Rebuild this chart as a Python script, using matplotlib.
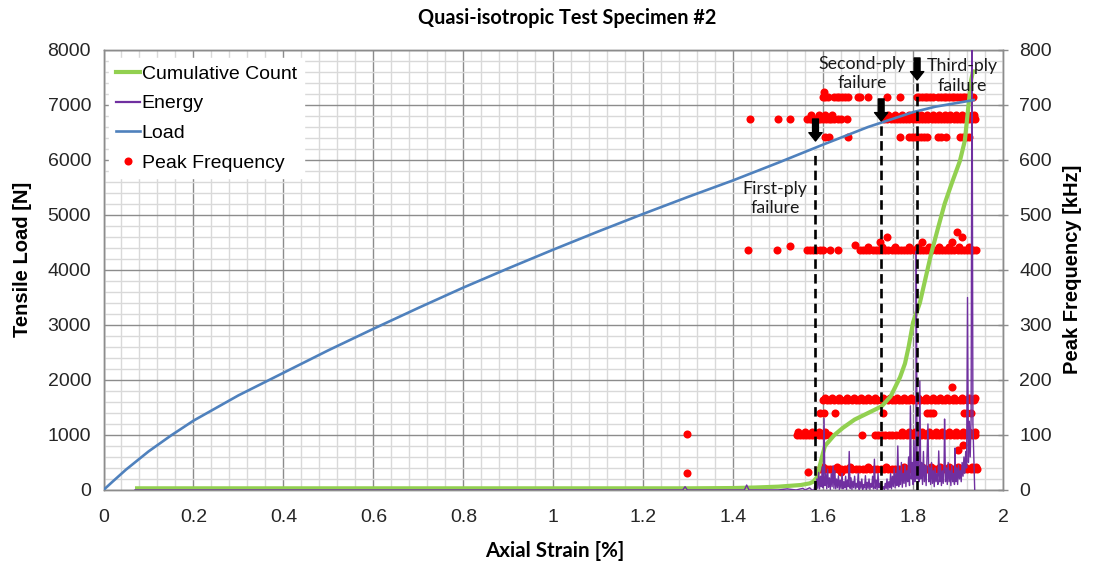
import matplotlib
matplotlib.use("Agg")
import matplotlib.pyplot as plt
from matplotlib.lines import Line2D
from matplotlib.ticker import MultipleLocator

# ---------------- data ----------------
load_strain = [0.0, 0.02, 0.05, 0.1, 0.15, 0.2, 0.3, 0.4, 0.5, 0.6, 0.7, 0.8, 0.9, 1.0,
               1.1, 1.2, 1.3, 1.4, 1.5, 1.6, 1.7, 1.8, 1.85, 1.9, 1.935]
load_N = [0, 150, 370, 700, 990, 1260, 1720, 2130, 2540, 2930, 3310, 3680, 4030, 4370,
          4700, 5020, 5330, 5630, 5950, 6280, 6600, 6870, 6970, 7040, 7090]

cum_strain = [0.07, 0.5, 1.0, 1.3, 1.4, 1.45, 1.5, 1.55, 1.57, 1.578, 1.586, 1.592, 1.598,
              1.604, 1.625, 1.644, 1.670, 1.700, 1.730, 1.750, 1.771, 1.782, 1.790, 1.800,
              1.815, 1.840, 1.855, 1.870, 1.887, 1.904, 1.915, 1.922, 1.929, 1.934]
cum_count = [30, 30, 30, 30, 35, 45, 60, 90, 120, 150, 230, 420, 620,
             800, 1000, 1130, 1280, 1400, 1520, 1700, 2050, 2300, 2600, 3050,
             3400, 4290, 4750, 5200, 5600, 5980, 6350, 6900, 7450, 7650]

energy_strain = [0.07, 1.288, 1.293, 1.298, 1.425, 1.430, 1.435, 1.50, 1.52, 1.54, 1.555, 1.56,
                 1.57, 1.575, 1.580, 1.582, 1.584, 1.586, 1.588, 1.590, 1.592, 1.594, 1.596,
                 1.598, 1.600, 1.602, 1.604, 1.606, 1.608, 1.610, 1.612, 1.614, 1.616, 1.618,
                 1.620, 1.622, 1.624, 1.626, 1.628, 1.630, 1.632, 1.634, 1.636, 1.638, 1.640,
                 1.642, 1.644, 1.646, 1.648, 1.650, 1.652, 1.654, 1.656, 1.658, 1.660, 1.662,
                 1.664, 1.666, 1.668, 1.670, 1.672, 1.674, 1.676, 1.678, 1.680, 1.682, 1.684,
                 1.686, 1.688, 1.690, 1.692, 1.694, 1.696, 1.698, 1.700, 1.702, 1.704, 1.706,
                 1.708, 1.710, 1.712, 1.714, 1.716, 1.718, 1.720, 1.722, 1.724, 1.726, 1.728,
                 1.730, 1.732, 1.734, 1.736, 1.738, 1.740, 1.742, 1.744, 1.746, 1.748, 1.750,
                 1.752, 1.754, 1.756, 1.758, 1.760, 1.762, 1.764, 1.766, 1.768, 1.770, 1.772,
                 1.774, 1.776, 1.778, 1.780, 1.782, 1.784, 1.786, 1.788, 1.790, 1.792, 1.794,
                 1.796, 1.798, 1.800, 1.802, 1.804, 1.806, 1.807, 1.809, 1.811, 1.813, 1.815,
                 1.817, 1.819, 1.821, 1.823, 1.825, 1.827, 1.829, 1.831, 1.833, 1.835, 1.837,
                 1.839, 1.841, 1.843, 1.845, 1.847, 1.849, 1.851, 1.853, 1.855, 1.857, 1.859,
                 1.861, 1.863, 1.865, 1.867, 1.869, 1.870, 1.872, 1.874, 1.876, 1.878, 1.880,
                 1.882, 1.884, 1.886, 1.888, 1.890, 1.892, 1.893, 1.895, 1.897, 1.899, 1.901,
                 1.903, 1.905, 1.907, 1.909, 1.911, 1.913, 1.915, 1.917, 1.919, 1.921, 1.923,
                 1.925, 1.927, 1.929, 1.931, 1.933, 1.935, 1.937]
energy_val = [0, 0, 60, 0, 0, 90, 0, 0, 20, 0, 30, 0,
              40, 0, 0, 120, 10, 200, 30, 320, 20, 250, 60,
              420, 40, 1300, 80, 300, 20, 380, 50, 220, 10, 300,
              60, 440, 30, 350, 20, 200, 40, 260, 10, 180, 30,
              300, 20, 150, 40, 250, 10, 180, 60, 700, 30, 220,
              10, 160, 40, 250, 20, 120, 50, 300, 10, 150, 30,
              200, 10, 100, 40, 260, 10, 140, 30, 200, 10, 120,
              50, 250, 20, 560, 30, 180, 10, 300, 40, 120, 10,
              80, 20, 60, 10, 120, 30, 200, 10, 150, 40, 300,
              20, 250, 60, 400, 40, 300, 80, 800, 60, 350, 100,
              500, 50, 300, 120, 450, 60, 350, 150, 600, 80, 1530,
              200, 500, 100, 900, 150, 400, 4340, 200, 600, 150, 1980,
              200, 500, 100, 700, 150, 450, 80, 600, 1200, 150, 400,
              100, 500, 120, 350, 60, 400, 150, 300, 100, 710, 150,
              450, 80, 350, 120, 500, 1290, 150, 400, 100, 500, 150,
              350, 80, 450, 150, 300, 100, 760, 150, 400, 100, 450,
              200, 350, 150, 500, 250, 600, 300, 700, 400, 3500, 500,
              1250, 600, 1300, 9000, 1200, 600, 0]

# Peak frequency bands (kHz) and the strains of their hits
pf714_x = [1.600, 1.605, 1.611, 1.624, 1.630, 1.636, 1.642, 1.648, 1.655, 1.677, 1.682, 1.700,
           1.742, 1.770, 1.808, 1.814, 1.820, 1.826, 1.832, 1.838, 1.845, 1.856, 1.862, 1.868,
           1.874, 1.880, 1.886, 1.892, 1.898, 1.904, 1.910, 1.916, 1.922, 1.928, 1.934]
pf675_x = [1.437, 1.500, 1.526, 1.564, 1.570, 1.576, 1.582, 1.588, 1.594, 1.600, 1.606, 1.612,
           1.618, 1.624, 1.632, 1.640, 1.653, 1.736, 1.743, 1.750, 1.757, 1.764, 1.771, 1.778,
           1.785, 1.792, 1.799, 1.806, 1.813, 1.820, 1.827, 1.834, 1.841, 1.848, 1.855, 1.862,
           1.869, 1.876, 1.883, 1.890, 1.897, 1.904, 1.911, 1.918, 1.925, 1.932, 1.938]
pf681_x = [1.572, 1.590, 1.605, 1.620, 1.745, 1.760, 1.775, 1.790, 1.805, 1.818, 1.831, 1.844,
           1.857, 1.870, 1.883, 1.896, 1.909, 1.922, 1.935]
pf642_x = [1.605, 1.613, 1.655, 1.771, 1.790, 1.797, 1.804, 1.811, 1.818, 1.825, 1.831, 1.855,
           1.862, 1.873, 1.904, 1.911, 1.918, 1.925]
pf437_x = [1.433, 1.497, 1.564, 1.571, 1.578, 1.585, 1.592, 1.599, 1.615, 1.633, 1.682, 1.689,
           1.696, 1.703, 1.710, 1.717, 1.724, 1.731, 1.738, 1.745, 1.752, 1.759, 1.766, 1.773,
           1.780, 1.787, 1.794, 1.801, 1.808, 1.815, 1.822, 1.829, 1.836, 1.843, 1.850, 1.857,
           1.864, 1.871, 1.878, 1.885, 1.892, 1.899, 1.906, 1.913, 1.920, 1.927, 1.934, 1.940]
pf441_x = [1.700, 1.730, 1.760, 1.790, 1.812, 1.835, 1.858, 1.880, 1.902, 1.925]
pf163_x = [1.600, 1.608, 1.616, 1.624, 1.632, 1.640, 1.648, 1.656, 1.664, 1.672, 1.680, 1.688,
           1.696, 1.704, 1.712, 1.720, 1.728, 1.736, 1.744, 1.752, 1.760, 1.768, 1.776, 1.784,
           1.792, 1.800, 1.808, 1.816, 1.824, 1.832, 1.840, 1.848, 1.856, 1.864, 1.872, 1.880,
           1.888, 1.896, 1.904, 1.912, 1.920, 1.928, 1.936]
pf167_x = [1.604, 1.620, 1.636, 1.652, 1.668, 1.684, 1.700, 1.716, 1.732, 1.748, 1.764, 1.780,
           1.796, 1.812, 1.828, 1.844, 1.860, 1.876, 1.892, 1.908, 1.924, 1.938]
pf140_x = [1.593, 1.601, 1.626, 1.732, 1.830, 1.838, 1.845, 1.913, 1.920, 1.928]
pf100_x = [1.541, 1.548, 1.555, 1.562, 1.569, 1.576, 1.583, 1.590, 1.597, 1.604, 1.612, 1.686,
           1.716, 1.723, 1.730, 1.738, 1.746, 1.754, 1.762, 1.770, 1.778, 1.786, 1.794, 1.802,
           1.810, 1.818, 1.826, 1.834, 1.842, 1.850, 1.858, 1.866, 1.874, 1.882, 1.890, 1.898,
           1.906, 1.914, 1.922, 1.930, 1.938]
pf106_x = [1.545, 1.560, 1.575, 1.590, 1.605, 1.775, 1.790, 1.805, 1.820, 1.835, 1.850, 1.865,
           1.880, 1.895, 1.910, 1.925, 1.938]
pf38_x = [1.593, 1.600, 1.608, 1.616, 1.624, 1.632, 1.640, 1.648, 1.656, 1.664, 1.672, 1.680,
          1.688, 1.696, 1.704, 1.712, 1.720, 1.728, 1.736, 1.744, 1.752, 1.760, 1.768, 1.776,
          1.784, 1.792, 1.800, 1.808, 1.816, 1.824, 1.832, 1.840, 1.848, 1.856, 1.864, 1.872,
          1.880, 1.888, 1.896, 1.904, 1.912, 1.920, 1.928, 1.936, 1.941]
pf42_x = [1.600, 1.630, 1.660, 1.700, 1.740, 1.780, 1.800, 1.820, 1.840, 1.860, 1.880, 1.900,
          1.915, 1.930, 1.940]
pf_band_x = [pf714_x, pf675_x, pf681_x, pf642_x, pf437_x, pf441_x, pf163_x, pf167_x,
             pf140_x, pf100_x, pf106_x, pf38_x, pf42_x]
pf_band_values = [714, 675, 681, 642, 437, 441, 163, 167, 140, 100, 106, 38, 42]
pf_extra_x = [1.297, 1.297, 1.566, 1.603, 1.526, 1.671, 1.741, 1.819, 1.886, 1.897, 1.908,
              1.727, 1.886, 1.900, 1.911, 1.64, 1.78]
pf_extra_y = [102, 31, 32, 724, 444, 445, 460, 451, 451, 469, 460,
              450, 188, 73, 82, 32, 32]

failure_strain = [1.583, 1.729, 1.809]
failure_labels = ["First-ply\nfailure", "Second-ply\nfailure", "Third-ply\nfailure"]
failure_label_x = [1.493, 1.686, 1.909]
failure_label_y = [5300, 7573, 7527]
arrow_tail_N = [6745, 7110, 7855]
arrow_tip_N = [6345, 6710, 7455]
dash_top_N = [6180, 6630, 7400]

# ---------------- styling ----------------
ARIAL = "Liberation Sans"
CALIBRI = "Lato"
GREEN = "#92d050"
PURPLE = "#7030a0"
BLUE = "#4f81bd"
RED = "#ff0000"
MS = 5.8

fig = plt.figure(figsize=(10.93, 5.70), dpi=100)
ax = fig.add_axes([0.0947, 0.1404, 0.8230, 0.7719])
ax2 = ax.twinx()
ax.set_zorder(ax2.get_zorder() + 1)
ax.patch.set_visible(False)
ax2.patch.set_visible(True)
ax2.patch.set_facecolor("white")

ax.set_xlim(0, 2)
ax.set_ylim(0, 8000)
ax2.set_ylim(0, 800)
ax.xaxis.set_major_locator(MultipleLocator(0.2))
ax.xaxis.set_minor_locator(MultipleLocator(0.04))
ax.yaxis.set_major_locator(MultipleLocator(1000))
ax2.yaxis.set_major_locator(MultipleLocator(100))
ax2.yaxis.set_minor_locator(MultipleLocator(20))

# grid on the back axes
ax2.xaxis.set_visible(True)
ax2.tick_params(axis="x", which="both", labelbottom=False, bottom=False, top=False, length=0)
ax2.grid(which="minor", axis="both", color="#d9d9d9", linewidth=1.0)
ax2.grid(which="major", axis="both", color="#8c8c8c", linewidth=1.0)
ax2.set_axisbelow(True)

for a in (ax, ax2):
    for s in a.spines.values():
        s.set_color("#8c8c8c")
        s.set_linewidth(1.0)

# peak frequency scatter (secondary axis)
for xs, val in zip(pf_band_x, pf_band_values):
    ax2.plot(xs, [val] * len(xs), linestyle="none", marker="o", markersize=MS,
             color=RED, markeredgewidth=0, zorder=3)
ax2.plot(pf_extra_x, pf_extra_y, linestyle="none", marker="o", markersize=MS,
         color=RED, markeredgewidth=0, zorder=3)

# lines (primary axis)
ax.plot(cum_strain, cum_count, color=GREEN, linewidth=3.0, zorder=3, solid_capstyle="butt")
ax.plot(energy_strain, energy_val, color=PURPLE, linewidth=1.0, zorder=4)
ax.plot(load_strain, load_N, color=BLUE, linewidth=1.9, zorder=5)

# failure markers
for xs, top, tail, tip, lab, lx, ly in zip(failure_strain, dash_top_N, arrow_tail_N,
                                           arrow_tip_N, failure_labels, failure_label_x,
                                           failure_label_y):
    ax.plot([xs, xs], [0, top], color="black", linewidth=1.9, dashes=(3.6, 2.0), zorder=6)
    ax.annotate("", xy=(xs, tip), xytext=(xs, tail),
                arrowprops=dict(arrowstyle="simple,head_width=0.95,head_length=0.6,tail_width=0.42",
                                mutation_scale=10, color="black", shrinkA=0, shrinkB=0),
                zorder=7)
    ax.text(lx, ly, lab, ha="center", va="center", fontsize=12.8, family=CALIBRI,
            color="#1a1a1a", linespacing=1.3, zorder=8)

# ticks
ax.tick_params(axis="x", which="both", length=0, pad=14, labelsize=14)
ax.tick_params(axis="y", which="both", length=0, pad=9, labelsize=14)
ax2.tick_params(axis="y", which="major", direction="inout", length=7, width=1,
                color="#8c8c8c", pad=8, labelsize=14)
ax2.tick_params(axis="y", which="minor", length=0)
ax.set_xticks([0, 0.2, 0.4, 0.6, 0.8, 1.0, 1.2, 1.4, 1.6, 1.8, 2.0])
ax.set_xticklabels(["0", "0.2", "0.4", "0.6", "0.8", "1", "1.2", "1.4", "1.6", "1.8", "2"])
for lab in ax.get_xticklabels() + ax.get_yticklabels() + ax2.get_yticklabels():
    lab.set_family(ARIAL)
    lab.set_color("#262626")

# labels
ax.set_xlabel("Axial Strain [%]", family=CALIBRI, fontweight="bold", fontsize=14.8)
ax.xaxis.set_label_coords(0.502, -0.139)
ax.xaxis.label.set_va("center")
ax.set_ylabel("Tensile Load [N]", family=ARIAL, fontweight="bold", fontsize=14.5)
ax.yaxis.set_label_coords(-0.0906, 0.523)
ax.yaxis.label.set_va("center")
ax2.set_ylabel("Peak Frequency [kHz]", family=ARIAL, fontweight="bold", fontsize=14.5)
ax2.yaxis.set_label_coords(1.0775, 0.502)
ax2.yaxis.label.set_va("center")
fig.text(0.519, 0.968, "Quasi-isotropic Test Specimen #2", ha="center", va="center",
         family=CALIBRI, fontweight="bold", fontsize=14.3)

# legend
handles = [Line2D([], [], color=GREEN, linewidth=3.0),
           Line2D([], [], color=PURPLE, linewidth=1.6),
           Line2D([], [], color=BLUE, linewidth=1.9),
           Line2D([], [], linestyle="none", marker="o", markersize=MS, color=RED,
                  markeredgewidth=0)]
labels = ["Cumulative Count", "Energy", "Load", "Peak Frequency"]
leg = ax.legend(handles, labels, loc="upper left", bbox_to_anchor=(0.002, 0.99),
                frameon=True, fancybox=False, framealpha=1.0, edgecolor="white",
                facecolor="white", prop={"family": ARIAL, "size": 14},
                handlelength=1.25, handletextpad=0.08, labelspacing=0.62,
                borderpad=0.35, borderaxespad=0.2)
leg.set_zorder(10)

fig.savefig("out.png", dpi=100)
